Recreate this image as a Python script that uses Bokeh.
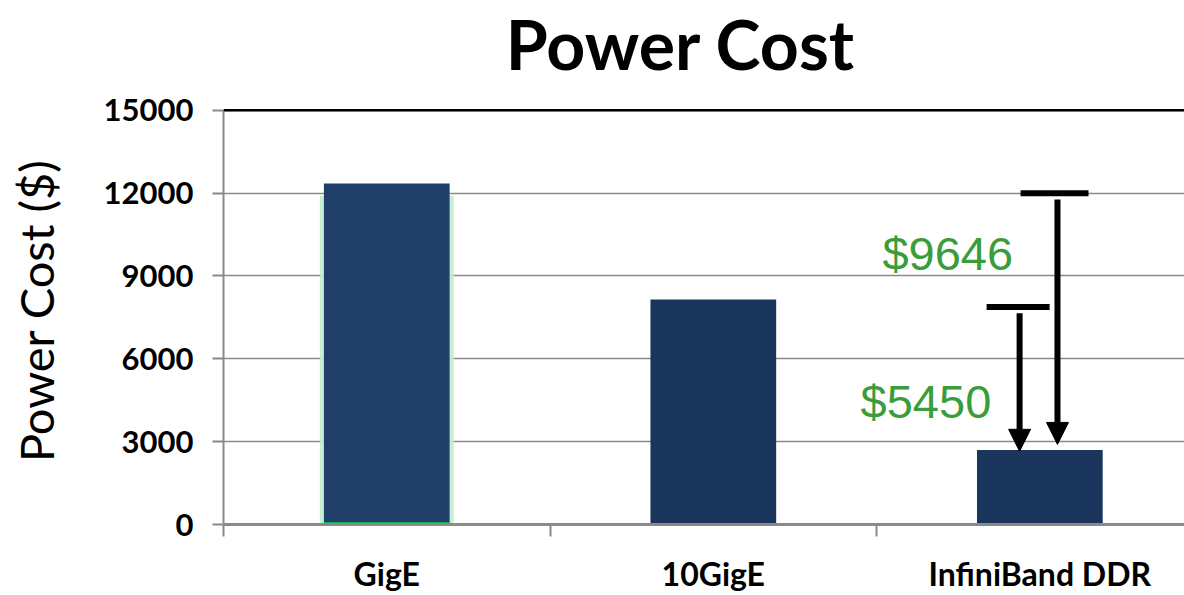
from bokeh.plotting import figure
from bokeh.models import (Range1d, FixedTicker, ColumnDataSource, Label,
                          Arrow, NormalHead, Span)
from bokeh.embed import file_html
from bokeh.resources import INLINE

# ---- data ----
categories = ["GigE", "10GigE", "InfiniBand DDR"]
power_cost = [12346, 8150, 2700]
bar_colors = ["#1f3e68", "#1a365d", "#1a365d"]
y_ticks = [0, 3000, 6000, 9000, 12000, 15000]
y_title = "Power Cost ($)"

# savings annotations (vs InfiniBand DDR)
saving_labels = ["$5450", "$9646"]
saving_top = [7880, 12000]
saving_bottom = [2650, 2900]
saving_arrow_x = [2.438, 2.554]
saving_cap_x0 = [2.337, 2.441]
saving_cap_x1 = [2.530, 2.649]
saving_label_x = [1.951, 2.018]
saving_label_y = [4445, 9830]

centers = [i + 0.5 for i in range(len(categories))]

# layout: plot area spans 0..15000 over 415px; extra headroom above holds the title
plot_px, frame_px = 415, 525
y_top = y_ticks[-1] * frame_px / plot_px

p = figure(width=1184, height=595, output_backend="svg", toolbar_location=None,
           x_range=Range1d(0, 2.943), y_range=Range1d(0, y_top),
           min_border_left=223, min_border_right=0, min_border_top=0,
           min_border_bottom=70)
p.outline_line_color = None
p.background_fill_color = "white"
p.border_fill_color = "white"

# title (inside the headroom)
p.add_layout(Label(x=1.40, y=y_ticks[-1], y_offset=67, text="Power Cost",
                   text_align="center", text_baseline="alphabetic",
                   text_font="Lato", text_font_style="bold",
                   text_font_size="68px", text_color="black"))

# glow behind GigE
p.vbar(x=[centers[0]], top=[power_cost[0] - 450], width=0.41, bottom=0,
       fill_color="#bfeccf", line_color=None, fill_alpha=0.9)

src = ColumnDataSource(dict(x=centers, top=power_cost, color=bar_colors, cat=categories))
p.vbar(x="x", top="top", width=0.385, bottom=0, fill_color="color", line_color=None, source=src)
# green base strip on GigE
p.vbar(x=[centers[0]], top=[90], width=0.385, bottom=0, fill_color="#10b050", line_color=None)

# grid / axes
p.xgrid.grid_line_color = None
p.ygrid.grid_line_color = "#8a8a8a"
p.ygrid.grid_line_width = 1.5
p.ygrid.ticker = FixedTicker(ticks=y_ticks)
p.add_layout(Span(location=y_ticks[-1], dimension="width", line_color="black", line_width=2.5))

ya = p.yaxis[0]
ya.ticker = FixedTicker(ticks=y_ticks)
ya.bounds = (y_ticks[0], y_ticks[-1])
ya.axis_line_color = "#8a8a8a"
ya.axis_line_width = 2
ya.major_tick_line_color = "#8a8a8a"
ya.major_tick_line_width = 2
ya.major_tick_out = 11
ya.major_tick_in = 0
ya.minor_tick_out = 0
ya.minor_tick_in = 0
ya.major_label_text_font = "Lato"
ya.major_label_text_font_style = "bold"
ya.major_label_text_font_size = "31px"
ya.major_label_text_color = "black"
ya.major_label_standoff = 19
# trailing no-break spaces keep the label centred on the 0..15000 span
ya.axis_label = y_title + "\u00a0" * 8
ya.axis_label_text_font = "Lato"
ya.axis_label_text_font_style = "normal"
ya.axis_label_text_font_size = "47px"
ya.axis_label_text_color = "black"
ya.axis_label_standoff = 37

xa = p.xaxis[0]
xa.ticker = FixedTicker(ticks=centers, minor_ticks=list(range(len(categories) + 1)))
xa.major_label_overrides = dict(zip(centers, categories))
xa.major_label_text_font = "Lato"
xa.major_label_text_font_style = "bold"
xa.major_label_text_font_size = "32px"
xa.major_label_text_color = "black"
xa.major_label_standoff = 17
xa.major_tick_out = 0
xa.major_tick_in = 0
xa.minor_tick_out = 12
xa.minor_tick_in = 0
xa.minor_tick_line_color = "#8a8a8a"
xa.minor_tick_line_width = 2
xa.axis_line_color = "#8a8a8a"
xa.axis_line_width = 3

# savings arrows
for i in range(len(saving_labels)):
    p.segment(x0=[saving_cap_x0[i]], y0=[saving_top[i]], x1=[saving_cap_x1[i]],
              y1=[saving_top[i]], line_color="black", line_width=6)
    p.add_layout(Arrow(end=NormalHead(size=22, fill_color="black", line_color="black"),
                       x_start=saving_arrow_x[i], y_start=saving_top[i] - 230,
                       x_end=saving_arrow_x[i], y_end=saving_bottom[i],
                       line_color="black", line_width=6))
    p.add_layout(Label(x=saving_label_x[i], y=saving_label_y[i], text=saving_labels[i],
                       text_align="left", text_baseline="alphabetic",
                       text_font="Liberation Sans", text_font_size="47px",
                       text_color="#3a9c3a"))

open("out.html", "w").write(file_html(p, INLINE))
